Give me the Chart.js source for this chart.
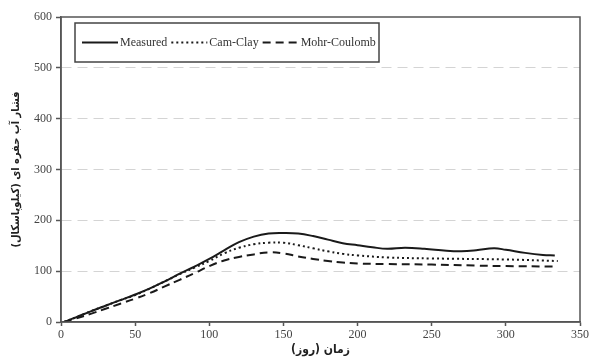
<!DOCTYPE html>
<html>
<head>
<meta charset="utf-8">
<script src="https://cdn.jsdelivr.net/npm/chart.js@4/dist/chart.umd.min.js"></script>
<style>
html,body{margin:0;padding:0;background:#fff;}
#wrap{width:591px;height:361px;position:relative;}
</style>
</head>
<body>
<div id="wrap"><canvas id="c" width="591" height="361"></canvas></div>
<script>
// ---- data ----
const seriesLabels = ['Measured', 'Cam-Clay', 'Mohr-Coulomb'];
const xTitle = 'زمان (روز)';
const yTitle = 'فشار آب حفره ای (کیلوپاسکال)';

const measuredDays = [2,10,20,30,40,50,60,70,80,90,100,110,120,130,140,150,160,170,180,190,200,210,220,232,245,260,270,280,292,300,313,325,333];
const measuredVals = [0,9,21,32,43,54,66,80,95,109,124,141,157,168,174,175,174,169,162,155,151,147,144,146,144,140,139,141,145,142,136,132,131];

const camClayDays = [2,10,20,30,40,50,60,70,80,90,100,110,120,130,140,150,160,170,180,190,200,220,250,300,335];
const camClayVals = [0,9,21,32,43,53,66,80,94,107,120,135,146,153,156,156,151,145,139,134,131,127,125,123,120];

const mohrDays = [2,10,20,30,40,50,60,70,80,90,100,110,120,130,140,150,160,170,180,190,200,220,250,280,300,333];
const mohrVals = [0,7,16,26,36,46,57,70,83,96,110,121,128,133,137,135,129,124,120,117,115,114,113,111,110,109];

const xTicks = [0,50,100,150,200,250,300,350];
const yTicks = [0,100,200,300,400,500,600];

function pts(xs, ys){ return xs.map((x,i)=>({x:x, y:ys[i]})); }

const serif = "'Liberation Serif','Times New Roman',serif";
const arabic = "'DejaVu Sans Condensed','DejaVu Sans', sans-serif";

const framePlugin = {
  id: 'frame',
  afterDatasetsDraw(chart){
    const {ctx, chartArea:a} = chart;
    ctx.save();
    ctx.setLineDash([]);
    ctx.strokeStyle = '#555';
    ctx.lineWidth = 1.5;
    ctx.strokeRect(a.left, a.top, a.right - a.left, a.bottom - a.top);
    // legend box
    const bx = a.left + 14, by = a.top + 6, bw = 304, bh = 39;
    ctx.fillStyle = '#fff';
    ctx.fillRect(bx, by, bw, bh);
    ctx.strokeStyle = '#444';
    ctx.lineWidth = 1.5;
    ctx.strokeRect(bx, by, bw, bh);
    const cy = by + bh/2;
    ctx.font = '12px ' + serif;
    ctx.fillStyle = '#333';
    ctx.textBaseline = 'middle';
    ctx.textAlign = 'left';
    let x = bx + 7;
    chart.data.datasets.forEach((ds) => {
      ctx.beginPath();
      ctx.strokeStyle = ds.borderColor;
      ctx.lineWidth = ds.borderWidth;
      ctx.setLineDash(ds.borderDash || []);
      ctx.moveTo(x, cy);
      ctx.lineTo(x + 36, cy);
      ctx.stroke();
      ctx.setLineDash([]);
      x += 38;
      ctx.fillText(ds.label, x, cy);
      x += ctx.measureText(ds.label).width + 4;
    });
    ctx.restore();
  }
};

new Chart(document.getElementById('c'), {
  type: 'line',
  data: {
    datasets: [
      { label: seriesLabels[0], data: pts(measuredDays, measuredVals), borderColor: '#1a1a1a', borderWidth: 2, borderDash: [], pointRadius: 0, tension: 0.4, fill: false },
      { label: seriesLabels[1], data: pts(camClayDays, camClayVals), borderColor: '#1a1a1a', borderWidth: 2, borderDash: [2,3], pointRadius: 0, tension: 0.4, fill: false },
      { label: seriesLabels[2], data: pts(mohrDays, mohrVals), borderColor: '#1a1a1a', borderWidth: 2, borderDash: [8,5], pointRadius: 0, tension: 0.4, fill: false }
    ]
  },
  options: {
    responsive: false,
    animation: false,
    devicePixelRatio: 1,
    layout: { padding: { top: 17, right: 10, left: 0, bottom: 0 } },
    plugins: { legend: { display: false }, tooltip: { enabled: false } },
    scales: {
      x: {
        type: 'linear', min: 0, max: 350,
        afterBuildTicks: (s) => { s.ticks = xTicks.map(v => ({value: v})); },
        afterFit: (s) => { s.height = 39; },
        grid: { drawOnChartArea: false, drawTicks: true, tickLength: 4, tickColor: '#555', tickWidth: 1.5 },
        border: { display: true, color: '#555', width: 1.5 },
        ticks: { padding: 2, color: '#444', font: { family: serif, size: 12 }, maxRotation: 0 },
        title: { display: true, text: xTitle, color: '#222', font: { family: arabic, size: 12, weight: 'bold' }, padding: { top: 0, bottom: 4 } }
      },
      y: {
        type: 'linear', min: 0, max: 600,
        afterBuildTicks: (s) => { s.ticks = yTicks.map(v => ({value: v})); },
        afterFit: (s) => { s.width = 61; },
        grid: {
          color: (c) => (c.tick && (c.tick.value === 0 || c.tick.value === 600)) ? 'rgba(0,0,0,0)' : '#d4d4d4',
          lineWidth: 1, drawTicks: true, tickLength: 5, tickColor: '#555', tickWidth: 1.5, tickBorderDash: []
        },
        border: { display: true, color: '#555', width: 1.5, dash: [10,6] },
        ticks: { padding: 4, color: '#444', font: { family: serif, size: 12 } },
        title: { display: true, text: yTitle, color: '#222', font: { family: arabic, size: 11, weight: 'bold' }, padding: { top: 10, bottom: 0 } }
      }
    }
  },
  plugins: [framePlugin]
});
</script>
</body>
</html>
